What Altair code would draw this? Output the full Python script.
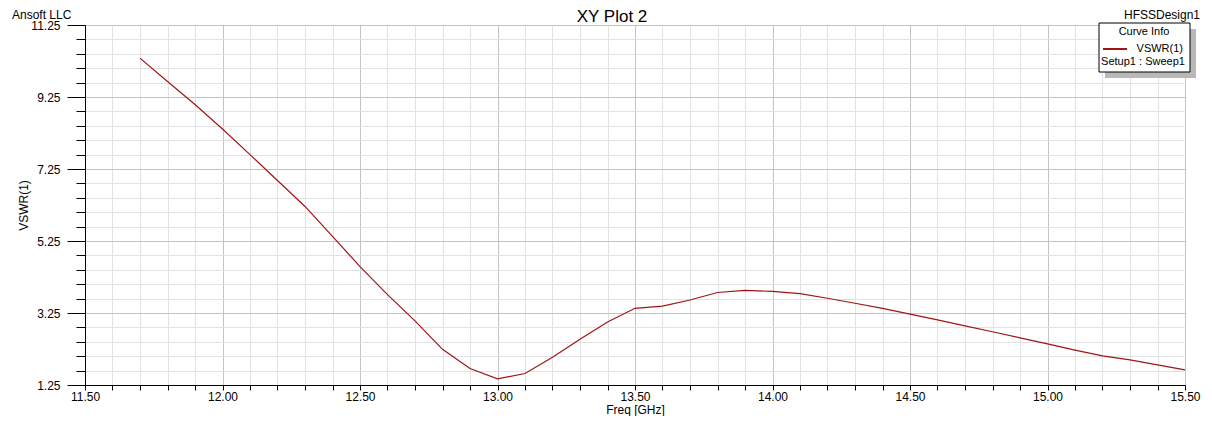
import altair as alt
import pandas as pd

# ---- data ----
freq = [11.7, 11.8, 11.9, 12.0, 12.1, 12.2, 12.3, 12.4, 12.5, 12.6,
        12.7, 12.8, 12.9, 13.0, 13.1, 13.2, 13.3, 13.4, 13.5, 13.6,
        13.7, 13.8, 13.9, 14.0, 14.1, 14.2, 14.3, 14.4, 14.5, 14.6,
        14.7, 14.8, 14.9, 15.0, 15.1, 15.2, 15.3, 15.4, 15.5]
vswr = [10.33, 9.68, 9.04, 8.36, 7.65, 6.93, 6.21, 5.38, 4.54, 3.76,
        3.03, 2.24, 1.71, 1.42, 1.57, 2.02, 2.52, 3.00, 3.38, 3.44,
        3.61, 3.82, 3.88, 3.85, 3.79, 3.66, 3.52, 3.38, 3.22, 3.06,
        2.89, 2.73, 2.56, 2.39, 2.22, 2.06, 1.95, 1.81, 1.67]

x_ticks = [round(11.5 + 0.1 * i, 1) for i in range(41)]
y_ticks = [round(1.25 + 0.4 * k, 2) for k in range(26)]

title_text = "XY Plot 2"
left_text = "Ansoft LLC"
right_text = "HFSSDesign1"
legend_title = "Curve Info"
legend_series = "VSWR(1)"
legend_sub = "Setup1 : Sweep1"

FONT = "Liberation Sans"
LINE_COLOR = "#a01515"

df = pd.DataFrame({"Freq": freq, "VSWR": vswr})

x_major = "abs(datum.value*2 - round(datum.value*2)) < 0.001"
y_major = "abs((datum.value-1.25)/2 - round((datum.value-1.25)/2)) < 0.001"

x_axis = alt.Axis(
    values=x_ticks,
    labelExpr=f"({x_major}) ? format(datum.value, '.2f') : ''",
    labelOverlap=False, labelFlush=False,
    grid=True,
    gridColor={"condition": {"test": x_major, "value": "#c4c4c4"}, "value": "#e2e2e2"},
    gridWidth=1,
    tickSize=5, tickColor="black", domainColor="black",
    labelFont=FONT, labelFontSize=12, labelColor="black", labelPadding=1,
    title="Freq [GHz]", titleFont=FONT, titleFontSize=12, titleFontWeight="normal",
    titleColor="black", titlePadding=2,
)
y_axis = alt.Axis(
    values=y_ticks,
    labelExpr=f"({y_major}) ? format(datum.value, '.2f') : ''",
    labelOverlap=False, labelFlush=False,
    grid=True,
    gridColor={"condition": {"test": y_major, "value": "#c4c4c4"}, "value": "#e2e2e2"},
    gridWidth=1,
    tickSize={"condition": {"test": y_major, "value": 18}, "value": 9},
    tickColor="black", domainColor="black",
    labelFont=FONT, labelFontSize=12, labelColor="black", labelPadding=7,
    title="VSWR(1)", titleFont=FONT, titleFontSize=12, titleFontWeight="normal",
    titleColor="black", titlePadding=0,
)

line = alt.Chart(df).mark_line(color=LINE_COLOR, strokeWidth=1.2).encode(
    x=alt.X("Freq:Q", scale=alt.Scale(domain=[11.5, 15.5], nice=False, zero=False), axis=x_axis),
    y=alt.Y("VSWR:Q", scale=alt.Scale(domain=[1.25, 11.25], nice=False, zero=False), axis=y_axis),
)

def txt(s, x, y, size=12, align="left", baseline="middle"):
    return alt.Chart(pd.DataFrame({"t": [s]})).mark_text(
        font=FONT, fontSize=size, color="black", align=align, baseline=baseline
    ).encode(text="t:N", x=alt.value(x), y=alt.value(y))

title = txt(title_text, 527, -3, size=17, align="center", baseline="alphabetic")
left = txt(left_text, -73, -6, size=12, baseline="alphabetic")
right = txt(right_text, 1115, -6, size=12, align="right", baseline="alphabetic")

shadow = alt.Chart(pd.DataFrame({"a": [0]})).mark_rect(color="#b8b8b8").encode(
    x=alt.value(1020), x2=alt.value(1111), y=alt.value(4), y2=alt.value(53))
box = alt.Chart(pd.DataFrame({"a": [0]})).mark_rect(fill="white", stroke="black", strokeWidth=1).encode(
    x=alt.value(1014), x2=alt.value(1105), y=alt.value(-2), y2=alt.value(47))
leg_line = alt.Chart(pd.DataFrame({"a": [0]})).mark_rule(color=LINE_COLOR, strokeWidth=2).encode(
    x=alt.value(1018), x2=alt.value(1042), y=alt.value(24))
leg_t1 = txt(legend_title, 1059, 7, size=11, align="center")
leg_t2 = txt(legend_series, 1098, 24, size=11, align="right")
leg_t3 = txt(legend_sub, 1058, 37, size=11, align="center")

chart = alt.layer(line, title, left, right, shadow, box, leg_line, leg_t1, leg_t2, leg_t3).properties(
    width=1100, height=360,
    autosize=alt.AutoSizeParams(type="none"),
    padding={"left": 77, "top": 17, "right": 19, "bottom": 31},
    background="white",
).configure_view(stroke="black", strokeWidth=1)

chart.save("out.html", embed_options={"renderer": "svg", "actions": False})
